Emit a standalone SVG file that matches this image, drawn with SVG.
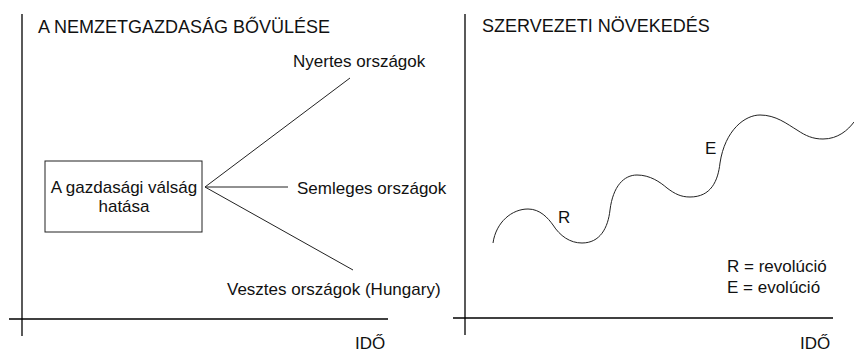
<svg xmlns="http://www.w3.org/2000/svg" width="854" height="352" viewBox="0 0 854 352">
<style>
text{font-family:"Liberation Sans",Arial,sans-serif;fill:#111}
.t{font-size:18px}
.l{font-size:17px}
.ax{stroke:#000;stroke-width:1.3;fill:none}
.ln{stroke:#222;stroke-width:1;fill:none}
</style>
<rect width="854" height="352" fill="#fff"/>
<g id="left-axes">
<line class="ax" x1="22" y1="14" x2="22" y2="336"/>
<line class="ax" x1="9" y1="319" x2="388" y2="319"/>
<text class="t" x="38" y="33">A NEMZETGAZDASÁG BŐVÜLÉSE</text>
<text class="l" x="355" y="349">IDŐ</text>
</g>
<g id="node-valsag">
<rect x="45" y="161" width="157" height="71" fill="#fff" stroke="#222" stroke-width="1"/>
<text class="l" x="124" y="193" text-anchor="middle">A gazdasági válság</text>
<text class="l" x="124" y="212" text-anchor="middle">hatása</text>
</g>
<g id="node-nyertes"><text class="l" x="293" y="67">Nyertes országok</text></g>
<g id="node-semleges"><text class="l" x="297" y="194">Semleges országok</text></g>
<g id="node-vesztes"><text class="l" x="227" y="295">Vesztes országok (Hungary)</text></g>
<g id="connectors">
<line class="ln" x1="205" y1="187" x2="350" y2="78"/>
<line class="ln" x1="205" y1="187" x2="288" y2="187"/>
<line class="ln" x1="205" y1="187" x2="353" y2="270"/>
</g>
<g id="right-axes">
<line class="ax" x1="465" y1="14" x2="465" y2="335"/>
<line class="ax" x1="453" y1="318" x2="833" y2="318"/>
<text class="t" x="482" y="32">SZERVEZETI NÖVEKEDÉS</text>
<text class="l" x="800" y="349">IDŐ</text>
</g>
<g id="wave">
<path class="ln" d="M493,243 C496,222 512,209 528,209 C540,209 548,218 553,225 C560,236 570,243 582,243 C600,243 608,228 610,210 C613,186 624,175 637,175 C650,175 660,182 667,188 C675,194 681,197 690,197 C711,197 718,181 720,163 C725,130 745,115 760,115 C776,115 787,124 797,130 C806,136 813,139 823,139 C838,139 848,130 854,122"/>
<text class="l" x="558" y="223">R</text>
<text class="l" x="705" y="154">E</text>
</g>
<g id="legend">
<text class="l" x="727" y="272">R = revolúció</text>
<text class="l" x="727" y="293">E = evolúció</text>
</g>
</svg>
